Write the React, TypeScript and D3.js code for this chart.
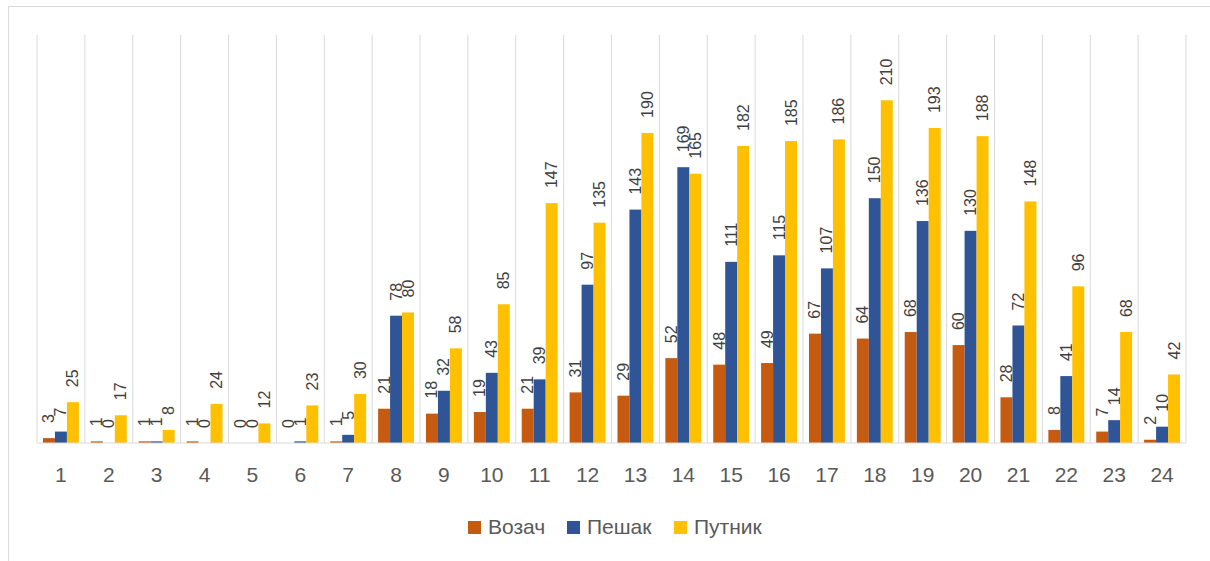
import React from 'react';
import * as d3 from 'd3';

const hours = d3.range(1, 25).map(String);
const seriesNames = ['Возач', 'Пешак', 'Путник'];
const colors = ['#C55A11', '#2F5597', '#FFC000'];
const vozac = [3, 1, 1, 1, 0, 0, 1, 21, 18, 19, 21, 31, 29, 52, 48, 49, 67, 64, 68, 60, 28, 8, 7, 2];
const pesak = [7, 0, 1, 0, 0, 1, 5, 78, 32, 43, 39, 97, 143, 169, 111, 115, 107, 150, 136, 130, 72, 41, 14, 10];
const putnik = [25, 17, 8, 24, 12, 23, 30, 80, 58, 85, 147, 135, 190, 165, 182, 185, 186, 210, 193, 188, 148, 96, 68, 42];
const values = [vozac, pesak, putnik];

const App = () => {
    const width = 1210;
    const height = 561;
    const plot = { left: 37, right: 1186, top: 35, bottom: 443 };

    const x = d3.scaleBand().domain(hours).range([plot.left, plot.right]).paddingInner(0.25).paddingOuter(0.125);
    const xs = d3.scaleBand().domain(seriesNames).range([0, x.bandwidth()]).padding(0);
    const y = d3.scaleLinear().domain([0, 250]).range([plot.bottom, plot.top]);
    const step = x.step();
    const gridX = d3.range(0, 25).map(i => plot.left + i * step);

    const font = "'Liberation Sans', Arial, sans-serif";
    const legendX = [468, 567, 674];

    return (
        <svg width={width} height={height} style={{ position: 'absolute', left: 0, top: 0 }} fontFamily={font}>
            <rect x={0} y={0} width={width} height={height} fill="#fff" />
            {/* chart frame: only top and left edges are in view */}
            <line x1={8.5} x2={width} y1={6.5} y2={6.5} stroke="#d9d9d9" />
            <line x1={8.5} x2={8.5} y1={6.5} y2={height} stroke="#d9d9d9" />
            {gridX.map((gx, i) => (
                <line key={i} x1={gx} x2={gx} y1={plot.top} y2={plot.bottom} stroke="#d9d9d9" strokeWidth={1} />
            ))}
            {seriesNames.map((s, si) => (
                <g key={s}>
                    {values[si].map((v, i) => {
                        const bx = (x(hours[i]) as number) + (xs(s) as number);
                        const top = y(v);
                        return (
                            <g key={i}>
                                <rect x={bx} y={top} width={xs.bandwidth()} height={plot.bottom - top} fill={colors[si]} />
                                <text
                                    transform={`translate(${bx + xs.bandwidth() / 2},${top - 15}) rotate(-90)`}
                                    textAnchor="start"
                                    dominantBaseline="central"
                                    fontSize={16}
                                    fill="#404040"
                                >
                                    {v}
                                </text>
                            </g>
                        );
                    })}
                </g>
            ))}
            <line x1={plot.left} x2={plot.right} y1={plot.bottom} y2={plot.bottom} stroke="#d9d9d9" strokeWidth={1} />
            {hours.map(h => (
                <text key={h} x={(x(h) as number) + x.bandwidth() / 2} y={482} textAnchor="middle" fontSize={21} fill="#595959">
                    {h}
                </text>
            ))}
            {legendX.map((lx, i) => (
                <g key={i}>
                    <rect x={lx} y={521} width={13} height={13} fill={colors[i]} />
                    <text x={lx + 20} y={534} fontSize={21} fill="#595959">{seriesNames[i]}</text>
                </g>
            ))}
        </svg>
    );
};

export default App;
